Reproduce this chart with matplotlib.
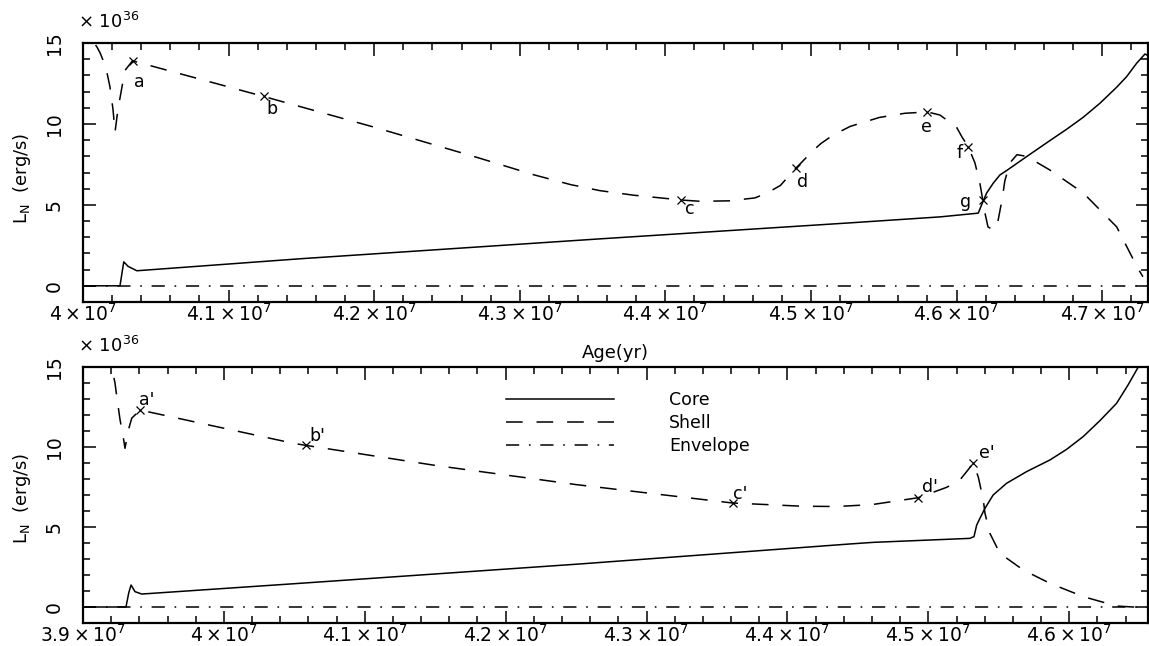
import numpy as np
import matplotlib
matplotlib.use("Agg")
import matplotlib.pyplot as plt
from matplotlib.ticker import MultipleLocator, FuncFormatter

plt.rcParams['font.family'] = ['DejaVu Sans']
plt.rcParams['mathtext.fontset'] = 'dejavusans'
plt.rcParams['lines.scale_dashes'] = False

UNIT = 1e7  # ages below are given in units of 1e7 yr
SCALE_LABEL = r"$\mathregular{\times\ 10^{36}}$"

# ---------------- upper panel ----------------
top_core_age = [4.000, 4.0254, 4.0268, 4.028, 4.031, 4.037, 4.149, 4.355, 4.527, 4.589,
                4.6149, 4.6172, 4.6206, 4.6252, 4.6298, 4.6344, 4.6481, 4.6641, 4.6756,
                4.687, 4.6985, 4.7099, 4.7168, 4.7237, 4.7294, 4.732]
top_core_L = [0.0, 0.0, 0.8, 1.48, 1.2, 0.93, 1.67, 2.9, 3.89, 4.26,
              4.49, 5.0, 5.72, 6.34, 6.85, 7.12, 7.98, 8.97, 9.67,
              10.41, 11.28, 12.26, 12.92, 13.75, 14.32, 14.2]

top_shell_age = [3.998, 4.0069, 4.0096, 4.0117, 4.0137, 4.0165, 4.0185, 4.0206, 4.022,
                 4.024, 4.0268, 4.0288, 4.034, 4.124, 4.2, 4.27, 4.31, 4.335, 4.355,
                 4.378, 4.411, 4.424, 4.444, 4.4615, 4.47, 4.479, 4.490, 4.496, 4.5007,
                 4.507, 4.515, 4.527, 4.547, 4.5646, 4.580, 4.5886, 4.600, 4.6037, 4.608,
                 4.6126, 4.616, 4.618, 4.6195, 4.6216, 4.625, 4.6277, 4.6312, 4.6332,
                 4.6367, 4.6415, 4.648, 4.664, 4.687, 4.710, 4.724, 4.728]
top_shell_L = [16.5, 15.1, 14.75, 14.4, 13.95, 13.15, 12.3, 10.9, 9.5,
               10.9, 12.3, 13.3, 13.9, 11.7, 9.8, 7.95, 6.85, 6.25, 5.88,
               5.6, 5.3, 5.22, 5.25, 5.43, 5.74, 6.2, 7.3, 7.85, 8.3,
               8.8, 9.3, 9.85, 10.4, 10.66, 10.74, 10.55, 9.8, 9.2, 8.6,
               7.6, 6.36, 5.3, 4.5, 3.64, 3.46, 3.64, 5.3, 6.5,
               7.6, 8.1, 8.0, 7.16, 5.74, 3.64, 1.17, 0.56]

top_env_age = [4.000, 4.732]
top_env_L = [0.0, 0.0]

top_mark_names = ['a', 'b', 'c', 'd', 'e', 'f', 'g']
top_mark_age = [4.034, 4.124, 4.411, 4.490, 4.580, 4.608, 4.618]
top_mark_L = [13.9, 11.7, 5.3, 7.3, 10.74, 8.6, 5.3]

# ---------------- lower panel ----------------
bot_core_age = [3.900, 3.9305, 3.9325, 3.9341, 3.9369, 3.9417, 4.054, 4.2527, 4.4444,
                4.4609, 4.5295, 4.5324, 4.5343, 4.5366, 4.5402, 4.546, 4.5555, 4.5697,
                4.5863, 4.5981, 4.6099, 4.6218, 4.6336, 4.6419, 4.649, 4.652]
bot_core_L = [0.0, 0.0, 0.9, 1.37, 0.96, 0.81, 1.48, 2.69, 3.94,
              4.04, 4.29, 4.4, 5.12, 5.54, 6.17, 7.0, 7.73, 8.46,
              9.19, 9.85, 10.65, 11.65, 12.73, 13.9, 15.0, 15.6]

bot_shell_age = [3.918, 3.9204, 3.9227, 3.9243, 3.9263, 3.9286, 3.9298, 3.9322, 3.9346,
                 3.9405, 4.0493, 4.0583, 4.15, 4.25, 4.361, 4.41, 4.435, 4.46, 4.4928,
                 4.513, 4.5224, 4.5319, 4.5354, 4.539, 4.5402, 4.5437, 4.5508, 4.5674,
                 4.5863, 4.6099, 4.6336, 4.6452, 4.6566]
bot_shell_L = [16.2, 15.0, 14.0, 12.94, 11.7, 10.6, 9.92, 11.06, 11.8,
               12.31, 10.23, 10.1, 8.85, 7.65, 6.5, 6.3, 6.28, 6.4, 6.83,
               7.48, 7.94, 8.98, 8.14, 6.69, 5.85, 4.6, 3.35, 2.31,
               1.48, 0.65, 0.06, 0.0, 0.0]

bot_env_age = [3.900, 4.6566]
bot_env_L = [0.0, 0.0]

bot_mark_names = ["a'", "b'", "c'", "d'", "e'"]
bot_mark_age = [3.9405, 4.0583, 4.361, 4.4928, 4.5319]
bot_mark_L = [12.31, 10.1, 6.5, 6.83, 8.98]

legend_labels = ['Core', 'Shell', 'Envelope']

# ---------------- styling ----------------
DASH = (0, (12, 10))
DASHDOT = (0, (9.5, 7, 1.2, 7))
LW = 1.1

# label offsets (pixels right, pixels down)
top_offsets = [(7, 21), (8, 13), (8, 9), (6, 14), (-1, 15), (-9, 6), (-17, 2)]
bot_offsets = [(7, -10), (11, -9), (8, -9), (12, -11), (14, -10)]

fig = plt.figure(figsize=(11.49, 6.46), dpi=100)
ax1 = fig.add_axes([83 / 1149, 1 - 302 / 646, 1065 / 1149, 259 / 646])
ax2 = fig.add_axes([83 / 1149, 1 - 623 / 646, 1065 / 1149, 256 / 646])


def fmt(v, p):
    return r"$\mathregular{%s\times10^{7}}$" % f"{v / UNIT:g}"


def setup(ax, xlo, xhi):
    ax.set_xlim(xlo * UNIT, xhi * UNIT)
    ax.set_ylim(-1, 15)
    ax.xaxis.set_major_locator(MultipleLocator(1e6))
    ax.xaxis.set_minor_locator(MultipleLocator(2e5))
    ax.xaxis.set_major_formatter(FuncFormatter(fmt))
    ax.set_yticks([0, 5, 10, 15])
    ax.set_yticklabels(['0', '5', '10', '15'], rotation=90, va='center')
    ax.yaxis.set_minor_locator(MultipleLocator(1))
    ax.tick_params(which='both', direction='in', top=True, right=True, width=1.1, color='black')
    ax.tick_params(which='major', length=9)
    ax.tick_params(which='minor', length=5)
    ax.tick_params(axis='x', labelsize=13.5, pad=1)
    ax.tick_params(axis='y', labelsize=13.5, pad=14)
    for s in ax.spines.values():
        s.set_linewidth(1.6)


def panel(ax, core_a, core_L, shell_a, shell_L, env_a, env_L):
    h1, = ax.plot(np.array(core_a) * UNIT, core_L, color='black', lw=LW, ls='-')
    h2, = ax.plot(np.array(shell_a) * UNIT, shell_L, color='black', lw=LW, ls=DASH)
    h3, = ax.plot(np.array(env_a) * UNIT, env_L, color='black', lw=LW, ls=DASHDOT)
    return h1, h2, h3


def marks(ax, names, ages, Ls, offsets):
    ax.plot(np.array(ages) * UNIT, Ls, 'x', color='black', ms=6, mew=0.9)
    for n, a, L, (dx, dy) in zip(names, ages, Ls, offsets):
        ax.annotate(n, (a * UNIT, L), xytext=(dx * 0.72, -dy * 0.72), textcoords='offset points',
                    ha='center', va='center', fontsize=12.5)


setup(ax1, 4.0, 4.7315)
setup(ax2, 3.9, 4.6559)
panel(ax1, top_core_age, top_core_L, top_shell_age, top_shell_L, top_env_age, top_env_L)
handles = panel(ax2, bot_core_age, bot_core_L, bot_shell_age, bot_shell_L, bot_env_age, bot_env_L)
marks(ax1, top_mark_names, top_mark_age, top_mark_L, top_offsets)
marks(ax2, bot_mark_names, bot_mark_age, bot_mark_L, bot_offsets)

ax2.legend(handles, legend_labels, loc='upper left', bbox_to_anchor=(506 / 1149, 1 - 391 / 646),
           bbox_transform=fig.transFigure, frameon=False, fontsize=12.5, handlelength=6.2,
           handletextpad=3.2, labelspacing=0.28, borderpad=0, borderaxespad=0)

fig.text(22 / 1149, 1 - 178 / 646, r"$\mathregular{L_N}$  (erg/s)", rotation=90,
         ha='center', va='center', fontsize=13)
fig.text(22 / 1149, 1 - 498 / 646, r"$\mathregular{L_N}$  (erg/s)", rotation=90,
         ha='center', va='center', fontsize=13)
fig.text(78 / 1149, 1 - 28 / 646, SCALE_LABEL, ha='left', va='baseline', fontsize=13)
fig.text(78 / 1149, 1 - 352 / 646, SCALE_LABEL, ha='left', va='baseline', fontsize=13)
fig.text(615 / 1149, 1 - 353 / 646, "Age(yr)", ha='center', va='center', fontsize=13)

fig.savefig("out.png", dpi=100)
